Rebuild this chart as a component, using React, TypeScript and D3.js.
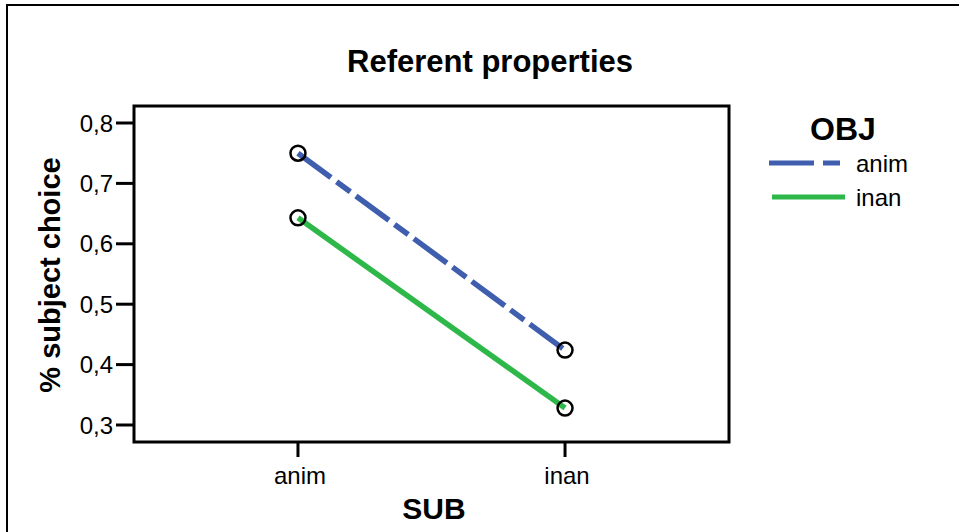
import React from "react";
import * as d3 from "d3";

const subCategories = ["anim", "inan"];
const objSeries = ["anim", "inan"];
const animValues = [0.75, 0.424];
const inanValues = [0.643, 0.328];
const yTicks = [0.3, 0.4, 0.5, 0.6, 0.7, 0.8];
const seriesColors = ["#3f5eae", "#2fb84a"];
const seriesDash = ["41 7 17 7", null];

const W = 959;
const H = 532;
const box = { left: 134, top: 106, right: 729, bottom: 442 };
const FONT = "'Liberation Sans', Arial, sans-serif";

export default function App() {
  const x = d3
    .scalePoint<string>()
    .domain(subCategories)
    .range([box.left, box.right])
    .padding(0.614);
  const y = d3.scaleLinear().domain([0.3, 0.8]).range([425, 123]);
  const fmt = (v: number) => d3.format(".1f")(v).replace(".", ",");
  const line = d3
    .line<number>()
    .x((_, i) => x(subCategories[i]) as number)
    .y((d) => y(d));
  const series = [animValues, inanValues];

  return (
    <svg
      width={W}
      height={H}
      style={{ position: "absolute", left: 0, top: 0, background: "#fff" }}
      fontFamily={FONT}
    >
      <rect x={0} y={0} width={W} height={H} fill="#fff" />
      {/* outer frame */}
      <path d={`M7,${H} V5 H${W}`} fill="none" stroke="#000" strokeWidth={2} />
      <text x={490} y={72} textAnchor="middle" fontWeight="bold" fontSize={31}>
        Referent properties
      </text>
      {/* plot box */}
      <rect
        x={box.left}
        y={box.top}
        width={box.right - box.left}
        height={box.bottom - box.top}
        fill="none"
        stroke="#000"
        strokeWidth={3}
      />
      {/* y axis ticks */}
      {yTicks.map((t) => (
        <g key={t}>
          <line x1={box.left - 18} x2={box.left} y1={y(t)} y2={y(t)} stroke="#000" strokeWidth={3} />
          <text x={box.left - 21} y={y(t)} dy="0.36em" textAnchor="end" fontSize={24}>
            {fmt(t)}
          </text>
        </g>
      ))}
      {/* x axis ticks */}
      {subCategories.map((c) => (
        <g key={c}>
          <line x1={x(c)} x2={x(c)} y1={box.bottom} y2={box.bottom + 15} stroke="#000" strokeWidth={3} />
          <text x={(x(c) as number) + 2} y={484} textAnchor="middle" fontSize={24}>
            {c}
          </text>
        </g>
      ))}
      <text x={434} y={519} textAnchor="middle" fontWeight="bold" fontSize={30}>
        SUB
      </text>
      <text
        transform={`translate(60,275) rotate(-90)`}
        textAnchor="middle"
        fontWeight="bold"
        fontSize={29}
      >
        % subject choice
      </text>
      {/* series */}
      {series.map((vals, si) => (
        <g key={si}>
          <path
            d={line(vals) as string}
            fill="none"
            stroke={seriesColors[si]}
            strokeWidth={5.5}
            strokeDasharray={seriesDash[si] ?? undefined}
          />
          {vals.map((v, i) => (
            <circle
              key={i}
              cx={x(subCategories[i])}
              cy={y(v)}
              r={7.5}
              fill="none"
              stroke="#000"
              strokeWidth={2.5}
            />
          ))}
        </g>
      ))}
      {/* legend */}
      <text x={843} y={140} textAnchor="middle" fontWeight="bold" fontSize={32}>
        OBJ
      </text>
      {objSeries.map((s, i) => (
        <g key={s}>
          <line
            x1={769 + i * 3}
            x2={i === 0 ? 840 : 845}
            y1={163 + i * 34}
            y2={163 + i * 34}
            stroke={seriesColors[i]}
            strokeWidth={5}
            strokeDasharray={i === 0 ? "45 9 17 9" : undefined}
          />
          <text x={856} y={163 + i * 34} dy="0.36em" fontSize={24}>
            {s}
          </text>
        </g>
      ))}
    </svg>
  );
}
